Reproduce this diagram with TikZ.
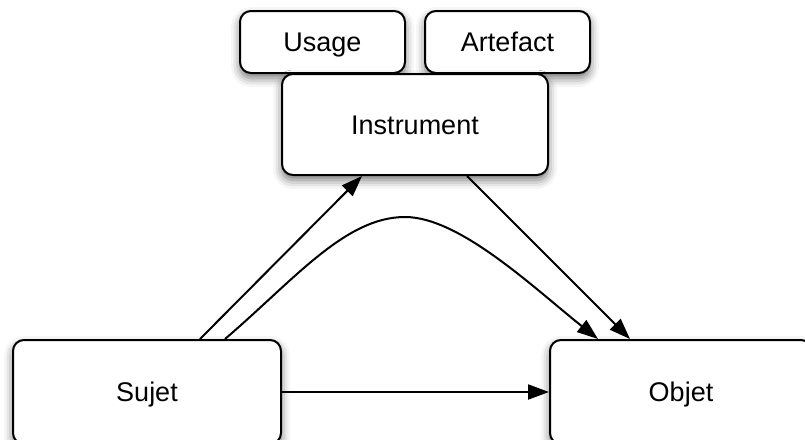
\documentclass[tikz,border=0pt]{standalone}
\usepackage{fontspec}
\setmainfont{Liberation Sans}
\usetikzlibrary{arrows.meta,shadows.blur}
\begin{document}
\begin{tikzpicture}[x=1pt,y=-1pt,
  box/.style={draw=black,line width=2pt,rounded corners=11pt,fill=white,
    inner sep=0pt,align=center,font=\fontsize{27}{32}\selectfont,
    text height=19.3pt,text depth=0pt,
    blur shadow={shadow xshift=0pt,shadow yshift=-5pt,shadow blur radius=9pt,shadow opacity=55}},
  link/.style={line width=2pt,-{Triangle[length=21pt,width=15pt]}}]
\useasboundingbox (0,0) rectangle (805,439);
\clip (0,0) rectangle (805,439);
% top row: the two parts of the instrument
\node[box,minimum width=165pt,minimum height=62pt] (usage) at (322.5,42) {Usage};
\node[box,minimum width=165pt,minimum height=62pt] (artefact) at (507.5,42) {Artefact};
% mediating instrument
\node[box,minimum width=266pt,minimum height=101pt] (instrument) at (415,124.5) {Instrument};
% subject and object, running past the lower edge
\node[box,minimum width=268pt,minimum height=104pt] (sujet) at (147,392) {Sujet};
\node[box,minimum width=262pt,minimum height=104pt] (objet) at (681,392) {Objet};
% mediated and direct relations
\draw[link] ([xshift=53pt]sujet.north) -- ([xshift=-53pt]instrument.south);
\draw[link] ([xshift=52pt]instrument.south) -- ([xshift=-51pt]objet.north);
\coordinate (top) at (405,217);
\draw[link] ([xshift=78pt]sujet.north) .. controls (294,280) and (345,217) .. (top)
  .. controls (460,217) and (535,289) .. ([xshift=-83pt]objet.north);
\draw[link] (sujet.east) -- (objet.west);
\end{tikzpicture}
\end{document}
